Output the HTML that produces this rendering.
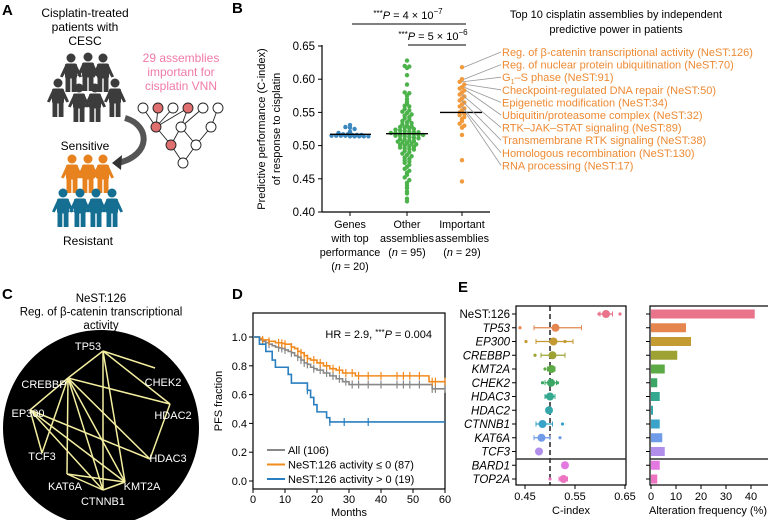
<!DOCTYPE html>
<html><head><meta charset="utf-8">
<style>
html,body{margin:0;padding:0;background:#fff;}
svg{display:block;font-family:"Liberation Sans",sans-serif;}
</style></head>
<body>
<svg id="fig" width="768" height="520" viewBox="0 0 768 520" xmlns="http://www.w3.org/2000/svg">
<defs>
<g id="person"><circle cx="0" cy="-15" r="4.5"/><rect x="-6" y="-9.5" width="12" height="15" rx="2"/><rect x="-5.5" y="4" width="4.8" height="15"/><rect x="0.7" y="4" width="4.8" height="15"/><path d="M-5.5,-8.5 L-11,3.5 L-8.5,4.5 L-4,-3Z M5.5,-8.5 L11,3.5 L8.5,4.5 L4,-3Z"/></g>
</defs>
<text x="2" y="15" font-size="15" font-weight="bold">A</text>
<text x="232" y="13" font-size="15" font-weight="bold">B</text>
<text x="2" y="299" font-size="15" font-weight="bold">C</text>
<text x="232" y="299" font-size="15" font-weight="bold">D</text>
<text x="458" y="292" font-size="15" font-weight="bold">E</text>

<g id="panelA" font-size="12" text-anchor="middle">
<text x="85" y="17">Cisplatin-treated</text>
<text x="85" y="31">patients with</text>
<text x="85" y="45">CESC</text>
<g fill="#f07aa8"><text x="181" y="62">29 assemblies</text><text x="181" y="76">important for</text><text x="181" y="90">cisplatin VNN</text></g>
<g fill="#3c3c3c">
<use href="#person" x="71" y="73"/><use href="#person" x="88" y="72"/><use href="#person" x="103" y="73"/>
<use href="#person" x="58" y="98"/><use href="#person" x="79" y="103"/><use href="#person" x="95" y="103"/><use href="#person" x="115" y="98"/>
</g>
<path d="M125,118 C150,125 152,155 118,163" fill="none" stroke="#555" stroke-width="6"/>
<path d="M112,163 L122,155 L121,170Z" fill="#333"/>
<text x="85" y="150">Sensitive</text>
<g fill="#e8821e"><use href="#person" x="72" y="174"/><use href="#person" x="88" y="174"/><use href="#person" x="103" y="174"/></g>
<g fill="#156f93"><use href="#person" x="63" y="208"/><use href="#person" x="80" y="208"/><use href="#person" x="96" y="208"/><use href="#person" x="112" y="208"/></g>
<text x="88" y="245">Resistant</text>
<g stroke="#222" stroke-width="0.9">
<line x1="158" y1="108" x2="156" y2="127"/><line x1="173" y1="108" x2="156" y2="127"/><line x1="188" y1="108" x2="156" y2="127"/><line x1="188" y1="108" x2="181" y2="127"/><line x1="203" y1="108" x2="181" y2="127"/><line x1="218" y1="108" x2="211" y2="127"/><line x1="143" y1="108" x2="156" y2="127"/>
<line x1="156" y1="127" x2="171" y2="145"/><line x1="181" y1="127" x2="171" y2="145"/><line x1="181" y1="127" x2="196" y2="145"/><line x1="211" y1="127" x2="196" y2="145"/>
<line x1="171" y1="145" x2="183" y2="163"/><line x1="196" y1="145" x2="183" y2="163"/>
<g fill="#fff"><circle cx="143" cy="108" r="5"/><circle cx="158" cy="108" r="5" fill="#e07070"/><circle cx="173" cy="108" r="5"/><circle cx="188" cy="108" r="5" fill="#e07070"/><circle cx="203" cy="108" r="5"/><circle cx="218" cy="108" r="5"/>
<circle cx="156" cy="127" r="5" fill="#e07070"/><circle cx="181" cy="127" r="5"/><circle cx="211" cy="127" r="5"/><circle cx="171" cy="145" r="5" fill="#e07070"/><circle cx="196" cy="145" r="5"/><circle cx="183" cy="163" r="5"/></g>
</g>
</g>

<g id="panelB"></g>
<g id="panelC"></g>
<g id="panelD"></g>
<g id="panelE"></g>
</svg>
<script>
const bGroups = ["genes", "other", "important"];
const genesVals = [0.531,0.528,0.527,0.525,0.521,0.519,0.517,0.517,0.516,0.516,0.516,0.515,0.515,0.515,0.515,0.514,0.514,0.514,0.514,0.514];
const otherVals = [0.628,0.620,0.619,0.617,0.606,0.592,0.580,0.579,0.575,0.570,0.566,0.563,0.560,0.559,0.555,0.553,0.551,0.549,0.547,0.545,0.543,0.541,0.539,0.537,0.535,0.534,0.532,0.530,0.529,0.528,0.527,0.526,0.525,0.524,0.523,0.522,0.521,0.520,0.520,0.519,0.519,0.518,0.518,0.517,0.517,0.516,0.516,0.515,0.515,0.514,0.513,0.512,0.511,0.510,0.509,0.508,0.507,0.506,0.505,0.504,0.503,0.502,0.501,0.500,0.499,0.498,0.497,0.496,0.495,0.494,0.492,0.490,0.488,0.486,0.484,0.482,0.480,0.478,0.476,0.474,0.471,0.468,0.465,0.462,0.459,0.456,0.452,0.448,0.444,0.440,0.436,0.431,0.428,0.420,0.416];
const importantVals = [0.618,0.600,0.596,0.592,0.588,0.586,0.583,0.580,0.577,0.574,0.571,0.568,0.565,0.562,0.559,0.556,0.553,0.550,0.548,0.546,0.543,0.540,0.537,0.533,0.530,0.527,0.516,0.478,0.446];
const bMedians = [0.517, 0.518, 0.550];
const bYTicks = [0.40,0.45,0.50,0.55,0.60,0.65];
const top10Labels = ["Reg. of β-catenin transcriptional activity (NeST:126)","Reg. of nuclear protein ubiquitination (NeST:70)","G1–S phase (NeST:91)","Checkpoint-regulated DNA repair (NeST:50)","Epigenetic modification (NeST:34)","Ubiquitin/proteasome complex (NeST:32)","RTK–JAK–STAT signaling (NeST:89)","Transmembrane RTK signaling (NeST:38)","Homologous recombination (NeST:130)","RNA processing (NeST:17)"];
const top10Vals = [0.618,0.600,0.596,0.592,0.588,0.583,0.577,0.568,0.559,0.548];

const kmAllT = [0,2,3,4,5,6,7,8,9,10,11,12,13,14,15,16,17,18,19,20,22,24,26,28,30,56,60];
const kmAllS = [1,.98,.97,.96,.95,.94,.93,.925,.92,.91,.9,.89,.87,.86,.84,.82,.81,.79,.78,.77,.75,.73,.71,.69,.67,.64,.64];
const kmLowT = [0,2,3,5,7,9,10,12,13,14,15,16,17,18,20,22,24,26,28,32,55,60];
const kmLowS = [1,.99,.98,.97,.96,.955,.95,.93,.92,.9,.89,.87,.85,.84,.82,.8,.78,.77,.75,.73,.69,.69];
const kmHighT = [0,2,4,6,7,11,12,17,18,19,20,23,24,60];
const kmHighS = [1,.95,.9,.84,.79,.74,.68,.63,.58,.53,.48,.44,.41,.41];
const censAll = [3,5,8,9,10,12,14,15,16,17,19,21,23,25,27,29,31,33,36,40,45,47,49,52,56,57,60];
const censLow = [3,5,8,9,10,12,14,15,16,17,19,21,23,25,27,29,31,33,36,40,45,47,49,52,56,57,60];
const censHigh = [17,24,28.5,36];
const dXTicks = [0,10,20,30,40,50,60];
const dYTicks = [0,0.2,0.4,0.6,0.8,1.0];

const eRows = ["NeST:126","TP53","EP300","CREBBP","KMT2A","CHEK2","HDAC3","HDAC2","CTNNB1","KAT6A","TCF3","BARD1","TOP2A"];
const eMean = [0.612,0.511,0.507,0.505,0.503,0.502,0.500,0.498,0.485,0.483,0.478,0.530,0.527];
const eLo = [0.600,0.468,0.472,0.482,0.495,0.490,0.490,0.494,0.472,0.468,0.474,0.524,0.518];
const eHi = [0.625,0.563,0.546,0.530,0.510,0.513,0.510,0.502,0.505,0.500,0.482,0.535,0.535];
const eOutLo = [0.598,0.440,0.452,0.470,0.490,0.485,0.492,null,null,null,null,null,0.500];
const eOutHi = [0.640,null,0.530,null,null,0.515,null,null,0.525,0.520,null,null,null];
const eAlt = [41.5,14,16,10.5,5.5,2.5,3.5,0.8,3.5,4.5,5.5,3.5,2.5];
const eColors = ["#e8738a","#e5864f","#c49a33","#9ea233","#5caa45","#3aa864","#35a990","#34a7aa","#3aa3c9","#6f9be8","#b18eea","#e278e0","#ec74c0"];
const eXTicks = [0.45,0.55,0.65];
const eAltTicks = [0,10,20,30,40];

const NS="http://www.w3.org/2000/svg";
function mk(parent, tag, attrs, text){const e=document.createElementNS(NS,tag);for(const k in attrs)e.setAttribute(k,attrs[k]);if(text!==undefined)e.textContent=text;parent.appendChild(e);return e;}

(function(){
const g=document.getElementById('panelB');
const y0=212,y1=46,v0=0.40,v1=0.65;
const yS=v=>y0+(v-v0)/(v1-v0)*(y1-y0);
const xC=[350,407,462];
const cols=["#3a87c0","#4cb24a","#f29a3c"];
let e=mk(g,'line',{x1:322,y1:y1-1,x2:322,y2:y0,stroke:'#000','stroke-width':1.2});

e=mk(g,'line',{x1:322,y1:y0,x2:490,y2:y0,stroke:'#000','stroke-width':1.2});

bYTicks.forEach(t=>{
 mk(g,'line',{x1:318,x2:322,y1:yS(t),y2:yS(t),stroke:'#000'});
 e=mk(g,'text',{x:315,y:yS(t)+4,'font-size':11.5,'text-anchor':'end'},t.toFixed(2));
 
});
xC.forEach(x=>mk(g,'line',{x1:x,x2:x,y1:y0,y2:y0+4,stroke:'#000'}));
e=mk(g,'text',{transform:'translate(265,129) rotate(-90)','font-size':11,'text-anchor':'middle'},'Predictive performance (C-index)');

e=mk(g,'text',{transform:'translate(280,129) rotate(-90)','font-size':11,'text-anchor':'middle'},'of response to cisplatin');

const cat=[["Genes","with top","performance","(n = 20)"],["Other","assemblies","(n = 95)"],["Important","assemblies","(n = 29)"]];
cat.forEach((ls,i)=>ls.forEach((l,j)=>{
 const t=mk(g,'text',{x:xC[i],y:228+j*14,'font-size':10.8,'text-anchor':'middle'});
 
 if(l.startsWith('(n')){mk(t,'tspan',{},'(');mk(t,'tspan',{'font-style':'italic'},'n');mk(t,'tspan',{},l.slice(2));}else t.textContent=l;
}));
const sets=[genesVals,otherVals,importantVals];
const pos=[];
sets.forEach((vals,gi)=>{
 const bins={};
 vals.forEach(v=>{const k=Math.round(v/0.0045);(bins[k]=bins[k]||[]).push(v);});
 pos.push([]);
 Object.keys(bins).forEach(k=>{const arr=bins[k];arr.forEach((v,i)=>{
  const x=xC[gi]+(i-(arr.length-1)/2)*4.6;
  const c=mk(g,'circle',{cx:x,cy:yS(v),r:2.2,fill:cols[gi]});
  
  pos[gi].push([v,x]);
 });});
});
const mw=[[330,371],[386,428],[440,482]];
bMedians.forEach((m,i)=>{const l=mk(g,'line',{x1:mw[i][0],x2:mw[i][1],y1:yS(m),y2:yS(m),stroke:'#000','stroke-width':1.4});
 });
mk(g,'line',{x1:352,x2:466,y1:24,y2:24,stroke:'#000','stroke-width':1});
mk(g,'line',{x1:408,x2:466,y1:45,y2:45,stroke:'#000','stroke-width':1});
let t=mk(g,'text',{x:408,y:19,'font-size':11,'text-anchor':'middle'});

mk(t,'tspan',{'font-size':8,dy:-3},'***');mk(t,'tspan',{'font-style':'italic',dy:3},'P');mk(t,'tspan',{},' = 4 × 10');mk(t,'tspan',{'font-size':8,dy:-5},'−7');
t=mk(g,'text',{x:433,y:40,'font-size':11,'text-anchor':'middle'});

mk(t,'tspan',{'font-size':8,dy:-3},'***');mk(t,'tspan',{'font-style':'italic',dy:3},'P');mk(t,'tspan',{},' = 5 × 10');mk(t,'tspan',{'font-size':8,dy:-5},'−6');
t=mk(g,'text',{x:616,y:18,'font-size':11,'text-anchor':'middle'},'Top 10 cisplatin assemblies by independent');

t=mk(g,'text',{x:616,y:33,'font-size':11,'text-anchor':'middle'},'predictive power in patients');

top10Labels.forEach((lab,i)=>{
 const ly=52+i*12.6;
 const v=top10Vals[i];
 const p=pos[2].find(q=>Math.abs(q[0]-v)<1e-9);
 const sx=p?p[1]+2:466;
 const l=mk(g,'line',{x1:sx,y1:yS(v),x2:501,y2:ly,stroke:'#999','stroke-width':0.8});
 
 const tx=mk(g,'text',{x:502,y:ly+4,'font-size':11,fill:'#ee8a33'});
 
 if(lab.startsWith('G1')){mk(tx,'tspan',{},'G');mk(tx,'tspan',{'font-size':7,dy:3},'1');mk(tx,'tspan',{dy:-3},lab.slice(2));}else tx.textContent=lab;
});
})();

(function(){
const g=document.getElementById('panelC');
const tl=["NeST:126","Reg. of β-catenin transcriptional","activity"];
tl.forEach((s,i)=>{const t=mk(g,'text',{x:101,y:302+i*13.5,'font-size':11.5,'text-anchor':'middle'},s);
 });
const c=mk(g,'circle',{cx:101,cy:428,r:98,fill:'#000'});

const nodes={TP53:[103,351,88,345],CREBBP:[68,378,44,383],CHEK2:[155,368,163,381],EP300:[30,410,28,412],HDAC2:[170,404,173,414],TCF3:[42,453,42,455],HDAC3:[150,459,168,457],KAT6A:[67,474,65,485],KMT2A:[125,482,142,485],CTNNB1:[103,490,103,500]};
const edges=[["TP53","CREBBP"],["TP53","CHEK2"],["TP53","HDAC2"],["TP53","KMT2A"],["TP53","CTNNB1"],["CREBBP","EP300"],["CREBBP","TCF3"],["CREBBP","KAT6A"],["CREBBP","CTNNB1"],["CREBBP","KMT2A"],["CREBBP","HDAC3"],["CREBBP","HDAC2"],["EP300","HDAC3"],["EP300","TCF3"],["EP300","KMT2A"],["EP300","CTNNB1"],["HDAC2","HDAC3"],["KAT6A","KMT2A"],["KAT6A","CTNNB1"],["CTNNB1","KMT2A"]];
edges.forEach(([a,b])=>{const A=nodes[a],B=nodes[b];
 const l=mk(g,'line',{x1:A[0],y1:A[1],x2:B[0],y2:B[1],stroke:'#f4eea0','stroke-width':1.5});
 });
Object.keys(nodes).forEach(k=>{const n=nodes[k];
 const t=mk(g,'text',{x:n[2],y:n[3]+5,'font-size':11,fill:'#fff','text-anchor':'middle'},k);
 });
})();

(function(){
const g=document.getElementById('panelD');
const xS=m=>253+m*3.2, yS=v=>481-v*144;
const f=mk(g,'rect',{x:253,y:313,width:192,height:176,fill:'none',stroke:'#000','stroke-width':1.2});

dXTicks.forEach(t=>{mk(g,'line',{x1:xS(t),x2:xS(t),y1:489,y2:493,stroke:'#000'});
 const e=mk(g,'text',{x:xS(t),y:503,'font-size':11,'text-anchor':'middle'},t);
 });
dYTicks.forEach(t=>{mk(g,'line',{x1:249,x2:253,y1:yS(t),y2:yS(t),stroke:'#000'});
 const e=mk(g,'text',{x:247,y:yS(t)+4,'font-size':11,'text-anchor':'end'},t.toFixed(1));
 });
let e=mk(g,'text',{x:349,y:516,'font-size':11,'text-anchor':'middle'},'Months');

e=mk(g,'text',{transform:'translate(222,401) rotate(-90)','font-size':11,'text-anchor':'middle'},'PFS fraction');

function curve(T,S,cens,col,name){
 let d='M'+xS(T[0])+','+yS(S[0]);
 for(let i=1;i<T.length;i++){d+=' H'+xS(T[i])+' V'+yS(S[i]);}
 const p=mk(g,'path',{d:d,fill:'none',stroke:col,'stroke-width':1.6});
 
 cens.forEach(c=>{let s=S[0];for(let i=0;i<T.length;i++)if(T[i]<=c)s=S[i];
  const m=mk(g,'line',{x1:xS(c),x2:xS(c),y1:yS(s)-4,y2:yS(s)+4,stroke:col,'stroke-width':1.2});
  });
}
curve(kmAllT,kmAllS,censAll,'#888888','km-all');
curve(kmLowT,kmLowS,censLow,'#f28a1e','km-low-activity');
curve(kmHighT,kmHighS,censHigh,'#2a7fc0','km-high-activity');
const t=mk(g,'text',{x:432,y:338,'font-size':11,'text-anchor':'end'});

mk(t,'tspan',{},'HR = 2.9, ');mk(t,'tspan',{'font-size':8,dy:-3},'***');mk(t,'tspan',{'font-style':'italic',dy:3},'P');mk(t,'tspan',{},' = 0.004');
const leg=[["All (106)","#888888"],["NeST:126 activity ≤ 0 (87)","#f28a1e"],["NeST:126 activity > 0 (19)","#2a7fc0"]];
leg.forEach((l,i)=>{const y=450+i*14.5;
 const ln=mk(g,'line',{x1:267,x2:285,y1:y,y2:y,stroke:l[1],'stroke-width':2});
 
 const tx=mk(g,'text',{x:288,y:y+4,'font-size':11},l[0]);
 });
})();

(function(){
const g=document.getElementById('panelE');
const xS=v=>550+(v-0.5)*500;
const rY=i=>314+i*13.75;
let e=mk(g,'rect',{x:516,y:306,width:110,height:179,fill:'none',stroke:'#000','stroke-width':1.2});

e=mk(g,'line',{x1:xS(0.5),x2:xS(0.5),y1:306,y2:485,stroke:'#000','stroke-width':1.3,'stroke-dasharray':'5,3'});

mk(g,'line',{x1:516,x2:626,y1:459,y2:459,stroke:'#333','stroke-width':1.5});
eRows.forEach((r,i)=>{
 mk(g,'line',{x1:512,x2:516,y1:rY(i),y2:rY(i),stroke:'#000'});
 const t=mk(g,'text',{x:510,y:rY(i)+4,'font-size':11.5,'text-anchor':'end','font-style':i===0?'normal':'italic'},r);
 
 const c=eColors[i];
 const l=mk(g,'line',{x1:xS(eLo[i]),x2:xS(eHi[i]),y1:rY(i),y2:rY(i),stroke:c,'stroke-width':1.3});
 
 [eLo[i],eHi[i]].forEach(v=>mk(g,'line',{x1:xS(v),x2:xS(v),y1:rY(i)-2.5,y2:rY(i)+2.5,stroke:c}));
 [eOutLo[i],eOutHi[i]].forEach(v=>{if(v!==null){const o=mk(g,'circle',{cx:xS(v),cy:rY(i),r:1.6,fill:c});
  }});
 const m=mk(g,'circle',{cx:xS(eMean[i]),cy:rY(i),r:4,fill:c});
 
});
eXTicks.forEach(t=>{mk(g,'line',{x1:xS(t),x2:xS(t),y1:485,y2:489,stroke:'#000'});
 const x=mk(g,'text',{x:xS(t),y:500,'font-size':11,'text-anchor':'middle'},t.toFixed(2));
 });
e=mk(g,'text',{x:571,y:514,'font-size':11,'text-anchor':'middle'},'C-index');

const aS=v=>651+v*2.5;
e=mk(g,'rect',{x:650,y:306,width:120,height:179,fill:'none',stroke:'#000','stroke-width':1.2});

mk(g,'line',{x1:650,x2:770,y1:459,y2:459,stroke:'#333','stroke-width':1.5});
eAlt.forEach((v,i)=>{
 mk(g,'line',{x1:646,x2:650,y1:rY(i),y2:rY(i),stroke:'#000'});
 const b=mk(g,'rect',{x:651,y:rY(i)-4.5,width:aS(v)-651,height:9,fill:eColors[i]});
 
});
eAltTicks.forEach(t=>{mk(g,'line',{x1:aS(t),x2:aS(t),y1:485,y2:489,stroke:'#000'});
 const x=mk(g,'text',{x:aS(t),y:500,'font-size':11,'text-anchor':'middle'},t);
 });
e=mk(g,'text',{x:708,y:514,'font-size':11,'text-anchor':'middle'},'Alteration frequency (%)');

})();
</script>
</body></html>
